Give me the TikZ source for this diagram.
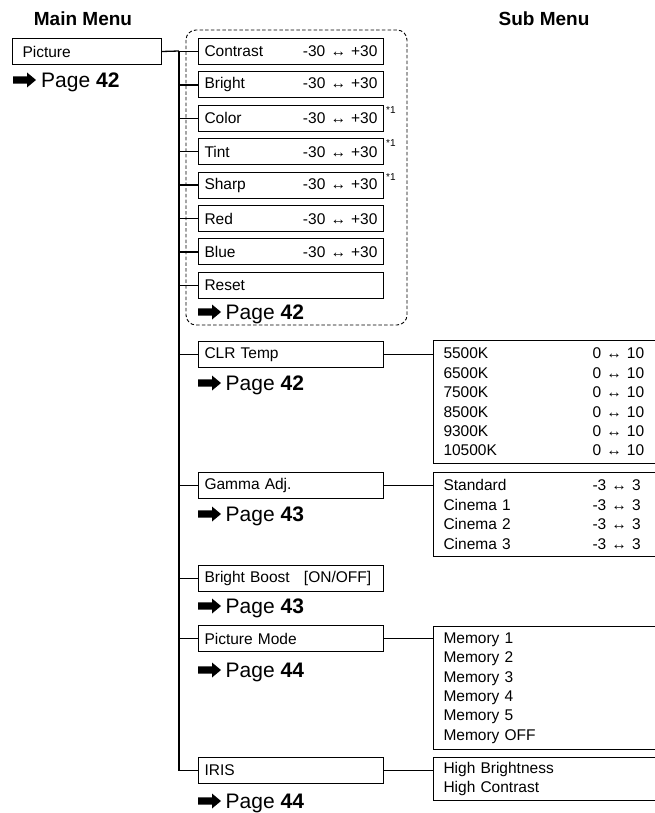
\documentclass[tikz,border=0pt]{standalone}
\usepackage{fontspec}
\setmainfont{Liberation Sans}
\usetikzlibrary{positioning}

\newcommand{\valrow}[2]{\makebox[149pt][l]{#1}#2}

\tikzset{
  gotoarrow/.pic={\fill (0,-3.6)--(14,-3.6)--(14,-7.5)--(23,0)--(14,7.5)--(14,3.6)--(0,3.6)--cycle;}
}

\begin{document}
\begin{tikzpicture}[x=1pt,y=-1pt,
  every node/.style={font=\fontsize{15.5}{19.4}\selectfont},
  title/.style={font=\fontsize{19}{22}\selectfont\bfseries},
  itembox/.style={draw,line width=1pt,anchor=north west,minimum height=26,inner xsep=6,inner ysep=0,text width=173,align=left},
  listbox/.style={draw,line width=1pt,anchor=north west,inner xsep=10,inner ysep=0,text width=230,align=left},
  pagelink/.style={font=\fontsize{21}{25}\selectfont,anchor=base west,inner sep=0},
  note/.style={font=\fontsize{10}{12}\selectfont,inner sep=0},
  link/.style={line width=1.3pt}]
\useasboundingbox (0,0) rectangle (654,813);

\node[title] (mainttl) at (83,19) {Main Menu};
\node[title] (subttl) at (544,19) {Sub Menu};

% main menu entry
\node[itembox,text width=129,inner xsep=10] (picture) at (12,38) {Picture};
\pic at (13,80) {gotoarrow};
\node[pagelink] (pg1) at (41,87.5) {Page \textbf{42}};
\coordinate (trunk) at (179,51);

% adjustment group
\draw[dashed,dash pattern=on 3.5pt off 2.2pt,line width=0.9pt,rounded corners=10] (186,30) rectangle (407,325);
\node[itembox] (contrast) at (198,38) {Contrast\hfill -30 ↔ +30};
\node[itembox] (bright) at (198,71.4) {Bright\hfill -30 ↔ +30};
\node[itembox] (color) at (198,104.8) {Color\hfill -30 ↔ +30};
\node[itembox] (tint) at (198,138.2) {Tint\hfill -30 ↔ +30};
\node[itembox] (sharp) at (198,171.6) {Sharp\hfill -30 ↔ +30};
\node[itembox] (red) at (198,205) {Red\hfill -30 ↔ +30};
\node[itembox] (blue) at (198,238.4) {Blue\hfill -30 ↔ +30};
\node[itembox] (reset) at (198,271.8) {Reset};
\node[note,right=2pt of color.north east,yshift=-5] (m1) {*1};
\node[note,right=2pt of tint.north east,yshift=-5] (m2) {*1};
\node[note,right=2pt of sharp.north east,yshift=-5] (m3) {*1};
\pic at (198,312) {gotoarrow};
\node[pagelink] (pg2) at (225.5,319.5) {Page \textbf{42}};

% entries with their own lists
\node[itembox] (clrtemp) at (198,341) {CLR Temp};
\pic at (198,383) {gotoarrow};
\node[pagelink] (pg3) at (225.5,390.5) {Page \textbf{42}};
\node[itembox] (gamma) at (198,472) {Gamma Adj.};
\pic at (198,514) {gotoarrow};
\node[pagelink] (pg4) at (225.5,521.5) {Page \textbf{43}};
\node[itembox] (boost) at (198,565) {Bright Boost\hspace{9pt} [ON/OFF]};
\pic at (198,606) {gotoarrow};
\node[pagelink] (pg5) at (225.5,613.5) {Page \textbf{43}};
\node[itembox] (mode) at (198,625) {Picture Mode};
\pic at (198,670) {gotoarrow};
\node[pagelink] (pg6) at (225.5,677.5) {Page \textbf{44}};
\node[itembox] (iris) at (198,757) {IRIS};
\pic at (198,801) {gotoarrow};
\node[pagelink] (pg7) at (225.5,808.5) {Page \textbf{44}};

% sub menu lists
\node[listbox,minimum height=123] (clrlist) at (433,340) {\valrow{5500K}{0 ↔ 10}\\\valrow{6500K}{0 ↔ 10}\\\valrow{7500K}{0 ↔ 10}\\\valrow{8500K}{0 ↔ 10}\\\valrow{9300K}{0 ↔ 10}\\\valrow{10500K}{0 ↔ 10}};
\node[listbox,minimum height=84] (gammalist) at (433,472) {\valrow{Standard}{-3 ↔ 3}\\\valrow{Cinema 1}{-3 ↔ 3}\\\valrow{Cinema 2}{-3 ↔ 3}\\\valrow{Cinema 3}{-3 ↔ 3}};
\node[listbox,minimum height=123] (modelist) at (433,626) {Memory 1\\Memory 2\\Memory 3\\Memory 4\\Memory 5\\Memory OFF};
\node[listbox,minimum height=43] (irislist) at (433,757) {High Brightness\\High Contrast};

% connectors
\draw[link] (picture.east) -- (trunk);
\draw[link] (trunk) -- (trunk |- iris.west) -- (iris.west);
\draw[link] (trunk |- contrast.west) -- (contrast.west);
\draw[link] (trunk |- bright.west) -- (bright.west);
\draw[link] (trunk |- color.west) -- (color.west);
\draw[link] (trunk |- tint.west) -- (tint.west);
\draw[link] (trunk |- sharp.west) -- (sharp.west);
\draw[link] (trunk |- red.west) -- (red.west);
\draw[link] (trunk |- blue.west) -- (blue.west);
\draw[link] (trunk |- reset.west) -- (reset.west);
\draw[link] (trunk |- clrtemp.west) -- (clrtemp.west);
\draw[link] (trunk |- gamma.west) -- (gamma.west);
\draw[link] (trunk |- boost.west) -- (boost.west);
\draw[link] (trunk |- mode.west) -- (mode.west);
\draw[link] (clrtemp.east) -- (clrtemp.east -| clrlist.west);
\draw[link] (gamma.east) -- (gamma.east -| gammalist.west);
\draw[link] (mode.east) -- (mode.east -| modelist.west);
\draw[link] (iris.east) -- (iris.east -| irislist.west);
\end{tikzpicture}
\end{document}
